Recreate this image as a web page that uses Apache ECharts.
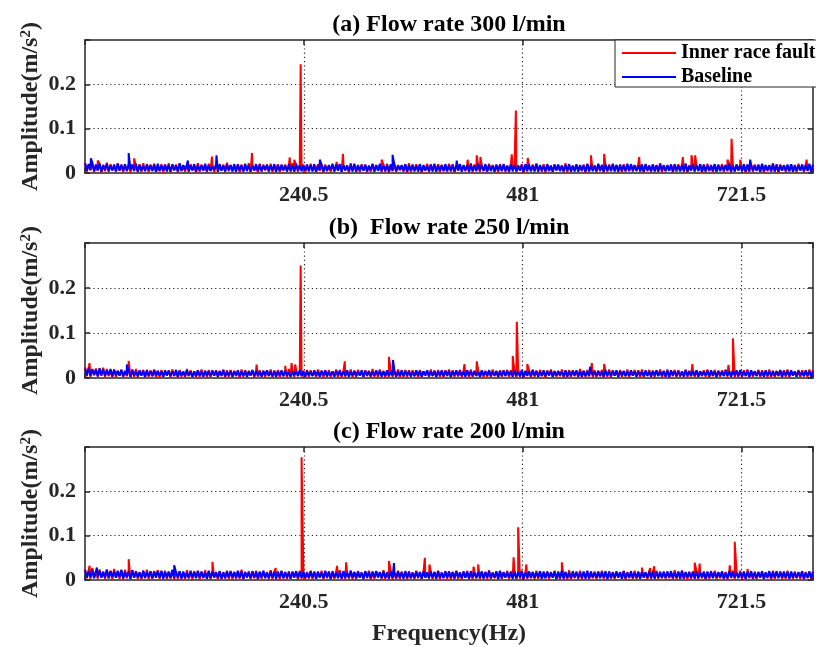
<!DOCTYPE html>
<html><head><meta charset="utf-8">
<script src="https://cdn.jsdelivr.net/npm/echarts@6/dist/echarts.min.js"></script>
<style>html,body{margin:0;padding:0;background:#fff}#c{width:816px;height:647px}</style>
</head><body><div id="c"></div>
<script>
// ---- DATA ----
const panelTitles = ['(a) Flow rate 300 l/min', '(b)  Flow rate 250 l/min', '(c) Flow rate 200 l/min'];
const seriesNames = ['Inner race fault', 'Baseline'];
const xTicks = [240.5, 481, 721.5];
const yTicks = [0, 0.1, 0.2];
const xLabel = 'Frequency(Hz)';

// spectrum bins (Hz)
const freqHz = [
0,2,4,6,8,10,12,14,16,18,20,22,24,26,28,30,32,34,36,38,
40,42,44,46,48,50,52,54,56,58,60,62,64,66,68,70,72,74,76,78,
80,82,84,86,88,90,92,94,96,98,100,102,104,106,108,110,112,114,116,118,
120,122,124,126,128,130,132,134,136,138,140,142,144,146,148,150,152,154,156,158,
160,162,164,166,168,170,172,174,176,178,180,182,184,186,188,190,192,194,196,198,
200,202,204,206,208,210,212,214,216,218,220,222,224,226,228,230,232,234,236,238,
240,242,244,246,248,250,252,254,256,258,260,262,264,266,268,270,272,274,276,278,
280,282,284,286,288,290,292,294,296,298,300,302,304,306,308,310,312,314,316,318,
320,322,324,326,328,330,332,334,336,338,340,342,344,346,348,350,352,354,356,358,
360,362,364,366,368,370,372,374,376,378,380,382,384,386,388,390,392,394,396,398,
400,402,404,406,408,410,412,414,416,418,420,422,424,426,428,430,432,434,436,438,
440,442,444,446,448,450,452,454,456,458,460,462,464,466,468,470,472,474,476,478,
480,482,484,486,488,490,492,494,496,498,500,502,504,506,508,510,512,514,516,518,
520,522,524,526,528,530,532,534,536,538,540,542,544,546,548,550,552,554,556,558,
560,562,564,566,568,570,572,574,576,578,580,582,584,586,588,590,592,594,596,598,
600,602,604,606,608,610,612,614,616,618,620,622,624,626,628,630,632,634,636,638,
640,642,644,646,648,650,652,654,656,658,660,662,664,666,668,670,672,674,676,678,
680,682,684,686,688,690,692,694,696,698,700,702,704,706,708,710,712,714,716,718,
720,722,724,726,728,730,732,734,736,738,740,742,744,746,748,750,752,754,756,758,
760,762,764,766,768,770,772,774,776,778,780,782,784,786,788,790,792,794,796,798,
800];

// noise floor amplitudes in mm/s^2 at freqHz
const faultNoiseA = [
24,3,19,6,22,2,17,5,21,1,18,4,23,2,20,6,16,3,22,5,
19,2,17,6,21,1,18,4,16,3,20,2,22,5,17,1,19,4,21,2,
16,5,20,1,18,3,22,2,17,6,19,1,21,4,16,3,18,2,20,5,
17,1,22,3,19,5,16,2,21,4,18,1,20,3,17,6,19,2,23,4,
18,2,16,5,20,1,19,3,17,4,22,2,18,5,16,1,21,3,19,6,
17,3,21,1,18,4,20,2,16,5,19,3,17,1,22,4,18,2,20,5,
19,1,17,4,21,3,16,2,20,5,18,1,19,4,17,2,21,3,16,5,
20,2,18,6,17,1,22,3,19,4,16,2,20,5,18,1,17,3,21,4,
18,5,16,2,19,3,21,1,17,4,20,2,18,6,16,3,19,1,22,2,
17,4,20,3,18,1,16,5,21,2,19,3,17,4,20,1,18,5,16,2,
21,3,19,1,17,5,20,2,18,4,16,3,22,1,19,5,17,2,18,4,
16,2,21,4,18,3,17,1,20,5,19,2,16,4,21,3,18,1,17,5,
20,1,18,3,16,4,19,2,21,5,17,3,20,1,18,4,16,2,19,6,
18,4,17,2,22,1,18,5,16,3,20,2,17,4,19,1,21,3,18,5,
17,2,20,4,18,1,16,3,19,5,21,2,18,4,17,1,20,3,16,6,
19,3,17,5,21,2,18,1,20,4,16,3,19,2,17,5,22,1,18,4,
16,5,19,2,17,3,20,4,18,1,21,2,16,5,19,3,17,4,20,1,
18,2,21,4,16,1,19,3,17,5,20,2,18,4,21,1,17,3,19,5,
20,4,17,1,18,3,21,2,19,5,16,3,20,1,17,4,18,2,22,3,
17,1,19,5,18,2,16,4,20,3,17,1,21,5,18,2,19,4,17,3,
19];
const baseNoiseA = [
22,5,20,7,23,4,19,6,21,3,18,7,20,5,17,6,19,4,21,5,
18,6,20,4,17,7,19,5,21,3,18,6,16,4,20,7,17,5,19,3,
21,4,17,6,19,5,18,3,20,6,17,4,22,5,18,7,19,4,17,6,
20,3,18,5,17,6,21,4,18,5,16,7,19,3,20,5,17,4,19,6,
18,5,20,3,19,6,17,4,21,5,18,3,17,6,20,4,19,5,16,7,
19,4,17,6,20,3,18,5,19,7,17,4,20,5,18,3,21,6,17,4,
17,6,19,4,18,5,20,3,17,6,19,4,16,5,18,7,20,4,19,5,
20,3,18,6,17,4,19,5,21,3,18,6,17,5,19,4,16,6,20,3,
18,5,21,4,17,6,18,3,20,5,19,4,17,7,18,5,20,3,17,6,
19,4,17,5,20,3,18,6,16,4,19,5,21,3,17,6,18,4,20,5,
17,6,19,3,18,5,20,4,17,6,18,3,19,5,17,4,21,6,18,5,
20,4,18,5,17,3,19,6,18,4,20,5,17,3,19,6,18,4,17,5,
18,3,20,6,19,4,17,5,21,3,18,6,16,4,20,5,17,3,19,6,
19,5,17,4,18,6,20,3,17,5,19,4,18,6,17,3,20,5,18,4,
17,4,21,5,18,3,19,6,17,4,20,5,18,3,19,6,17,5,21,4,
20,6,18,4,17,5,19,3,20,6,17,4,19,5,18,3,20,6,17,4,
18,5,19,3,20,6,17,4,18,5,21,3,17,6,19,4,18,5,20,3,
19,4,17,6,18,5,20,3,19,4,17,6,18,5,20,3,17,4,19,6,
17,5,20,3,19,4,18,6,17,5,19,3,21,4,18,6,17,5,20,4,
20,3,18,5,17,6,19,4,20,3,18,5,17,6,19,4,18,5,21,3,
19];
const faultNoiseB = [
25,4,22,2,19,6,21,3,18,5,23,2,20,4,17,1,19,3,16,5,
18,2,15,4,19,1,17,3,20,2,16,5,18,1,15,3,17,4,19,2,
16,1,18,3,15,5,17,2,19,4,16,1,18,3,15,2,20,4,17,1,
15,3,17,2,19,4,16,1,18,3,15,5,17,2,16,4,19,1,17,3,
18,2,16,4,15,1,19,3,17,2,16,5,18,1,15,3,17,4,16,2,
17,4,19,1,16,3,18,2,15,4,17,1,20,3,16,2,18,5,15,3,
16,1,18,3,17,5,15,2,19,4,16,1,17,3,18,2,15,4,19,1,
18,3,15,2,17,4,19,1,16,3,18,5,15,2,17,4,16,1,20,3,
15,2,19,4,16,1,17,3,18,2,15,4,19,1,16,3,18,2,17,5,
17,4,16,1,18,3,15,5,17,2,19,4,16,1,18,3,15,2,17,4,
19,1,17,3,15,4,18,2,16,5,17,1,19,3,15,4,18,2,16,1,
16,3,18,2,19,4,15,1,17,3,16,5,18,2,17,4,15,1,19,3,
18,2,15,4,17,1,19,3,16,2,18,4,15,1,17,5,19,2,16,3,
15,4,19,1,16,3,18,2,17,4,15,1,20,3,16,2,18,4,17,1,
17,2,16,4,18,1,15,3,19,2,17,5,16,1,18,3,15,4,19,2,
16,5,18,3,17,1,19,2,15,4,18,3,16,1,17,5,19,2,15,3,
19,1,16,4,18,2,17,3,15,5,19,1,16,4,18,2,17,3,15,4,
17,3,19,2,15,4,18,1,16,3,17,5,19,2,15,4,18,1,16,3,
18,2,17,4,19,1,16,3,15,5,18,2,17,4,16,1,19,3,15,2,
16,4,18,1,17,3,19,2,16,5,15,3,18,1,17,4,16,2,19,3,
17];
const baseNoiseB = [
21,6,23,5,20,7,18,4,22,6,19,5,17,7,20,4,18,6,16,5,
18,4,16,6,17,3,19,5,15,4,17,6,16,3,18,5,15,4,17,6,
16,5,15,3,17,6,16,4,15,5,18,3,16,6,14,4,17,5,15,3,
15,4,17,5,14,3,16,6,15,4,17,5,16,3,15,6,17,4,14,5,
16,3,15,6,17,4,14,5,16,3,15,6,17,4,16,5,14,3,16,6,
17,5,14,4,16,3,15,6,17,4,16,5,14,3,15,6,16,4,17,5,
15,3,16,6,14,4,17,5,15,3,16,6,17,4,14,5,15,3,16,6,
16,4,15,5,17,3,14,6,16,4,15,5,17,3,16,6,15,4,14,5,
17,6,16,3,15,5,17,4,14,6,16,3,15,5,17,4,16,6,15,3,
14,4,17,5,16,3,15,6,17,4,14,5,16,3,15,6,17,4,16,5,
16,3,15,6,17,4,16,5,14,3,17,6,15,4,16,5,14,3,17,6,
15,5,17,4,14,6,16,3,15,5,17,4,16,6,15,3,17,5,14,4,
17,3,16,5,15,4,17,6,16,3,14,5,17,4,15,6,16,3,15,5,
16,6,14,4,17,3,15,5,16,6,17,4,15,3,16,5,14,4,17,6,
15,4,16,5,14,3,17,6,15,4,16,5,17,3,15,6,16,4,14,5,
17,5,15,3,16,6,14,4,17,5,15,3,16,6,17,4,15,5,16,3,
16,3,17,6,15,4,16,5,14,3,17,6,15,4,16,5,17,3,15,6,
14,6,16,4,17,5,15,3,16,6,14,4,17,5,15,3,16,6,17,4,
17,4,15,5,16,3,17,6,15,4,16,5,14,3,17,6,15,4,16,5,
15,5,17,3,15,6,16,4,17,5,15,3,16,6,14,4,17,5,15,3,
16];
const faultNoiseC = [
25,4,22,2,27,5,20,3,24,6,19,2,23,4,21,1,25,5,18,3,
21,2,23,4,19,1,22,5,20,3,18,2,21,4,23,1,19,3,20,5,
22,3,19,5,21,2,18,4,23,1,20,3,19,5,17,2,22,4,18,1,
20,5,21,1,18,4,22,3,19,2,21,5,17,1,20,3,18,4,21,2,
19,2,18,4,20,3,23,1,18,5,20,2,19,4,21,1,17,3,20,5,
18,3,22,2,19,5,17,1,21,4,18,2,20,3,17,5,19,1,21,3,
20,2,18,4,21,1,19,3,17,5,21,2,18,4,20,1,17,3,19,5,
22,3,19,2,17,4,21,1,18,3,20,5,17,2,19,4,21,1,18,3,
19,5,17,3,22,2,18,4,20,1,17,3,21,2,19,5,18,1,20,4,
17,3,21,4,18,2,20,5,17,3,19,1,18,4,21,2,17,5,20,3,
20,1,18,4,21,3,17,2,19,5,21,3,17,1,20,4,18,2,19,5,
18,2,22,3,17,4,20,1,19,3,17,5,21,2,18,4,20,1,17,3,
21,4,17,2,19,5,18,1,21,3,19,2,17,4,20,3,18,5,21,1,
17,3,20,4,18,1,22,2,17,4,19,3,21,1,18,5,17,2,20,4,
19,2,18,5,21,3,17,1,20,4,18,2,19,5,17,3,21,1,18,4,
18,3,21,2,17,4,19,5,18,1,20,3,17,4,21,2,19,5,17,3,
20,4,17,3,22,2,18,4,21,2,17,1,19,3,18,5,20,2,17,4,
17,1,19,3,18,5,21,2,17,4,20,3,18,1,19,4,21,2,18,5,
21,3,18,2,20,4,17,1,19,3,18,5,20,2,17,4,19,1,21,3,
18,5,20,2,17,3,21,4,18,2,19,5,17,3,20,1,18,4,19,2,
20];
const baseNoiseC = [
22,5,20,6,24,4,19,7,21,5,18,6,23,4,20,7,19,5,21,6,
23,4,18,6,20,3,22,5,19,6,17,4,21,5,18,7,20,4,19,6,
20,5,21,3,18,6,19,4,22,5,18,6,20,3,19,5,17,4,21,6,
18,4,20,6,19,5,17,3,21,4,19,6,18,5,20,3,17,4,19,6,
20,6,18,4,21,5,19,3,18,6,17,4,20,5,18,3,19,6,21,4,
17,4,20,5,18,3,19,6,20,4,18,5,17,3,19,6,20,4,18,5,
19,5,17,4,20,6,18,3,19,5,17,4,21,6,18,3,20,5,17,4,
18,3,20,5,17,4,21,6,18,4,19,5,17,3,20,6,18,4,19,5,
20,6,18,4,19,5,17,3,20,5,18,4,19,6,17,3,20,5,18,4,
17,4,19,6,18,3,20,5,17,4,19,6,18,3,20,5,17,4,19,6,
19,5,18,3,20,6,17,4,19,5,18,3,20,6,17,4,18,5,19,3,
18,6,20,4,17,5,19,3,21,4,18,6,17,5,19,3,20,4,18,6,
20,3,17,5,19,4,18,6,17,5,20,3,19,4,18,6,17,5,19,3,
19,4,21,3,18,5,17,4,20,6,18,4,17,5,19,3,21,4,18,5,
17,5,19,4,18,6,20,3,18,4,17,5,19,6,18,3,20,4,17,5,
20,4,17,5,19,3,18,6,17,5,19,4,20,3,18,6,17,4,19,5,
18,6,20,4,17,5,19,3,21,4,18,6,17,5,19,3,20,4,18,6,
19,3,18,5,20,4,17,6,18,5,19,3,17,4,20,6,18,5,17,4,
17,5,19,3,18,6,20,4,17,4,18,5,19,3,17,6,20,4,18,5,
20,4,17,6,19,5,18,3,19,5,17,4,18,6,20,3,17,5,19,4,
18];

// discrete spectral peaks [Hz, mm/s^2]
const faultPeaksA = [[14,28],[54,33],[139.5,37],[183.5,45],[225,35],[230,30],[237,245],[276.5,25],[283.5,43],
  [326,30],[420.5,30],[430.5,40],[434.5,36],[469,42],[473.5,141],[486.5,34],[556,40],[570.5,43],[609,36],
  [657,36],[666.5,40],[670.5,40],[706,30],[710.5,77],[720,30],[793,30]];
const basePeaksA = [[6.5,33],[48,45],[113,28],[144.5,40],[258,30],[338,41],[408.5,28],[731,30]];
const faultPeaksB = [[5,33],[48,38],[188.5,30],[220,27],[227,33],[231,30],[237,250],[285.5,37],[334,47],
  [417,31],[430.5,37],[470,49],[474.5,125],[486,31],[557,33],[570.5,31],[667.5,31],[707,29],[712,88]];
const basePeaksB = [[46,30],[338.5,40],[555,25]];
const faultPeaksC = [[5,32],[48,47],[140,41],[209.5,27],[238,277],[277,32],[287,40],[334,43],[373.5,50],[378.5,35],
  [427,30],[432,35],[471,51],[476,119],[485,35],[524,40],[612,28],[621,27],[625.5,31],[670,39],[675.5,37],
  [708.5,33],[714,86],[728,25]];
const basePeaksC = [[13,28],[98,33],[339.5,38]];

const faultNoise = [faultNoiseA, faultNoiseB, faultNoiseC];
const baseNoise = [baseNoiseA, baseNoiseB, baseNoiseC];
const faultPeaks = [faultPeaksA, faultPeaksB, faultPeaksC];
const basePeaks = [basePeaksA, basePeaksB, basePeaksC];

// ---- BUILD ----
function trace(noise, peaks) {
  const pts = [];
  const n = Math.min(freqHz.length, noise.length);
  for (let i = 0; i < n; i++) pts.push([freqHz[i], noise[i] / 1000]);
  peaks.forEach(p => pts.push([p[0], p[1] / 1000]));
  pts.sort((a, b) => a[0] - b[0]);
  return pts;
}

const FONT = "'Liberation Serif','Times New Roman',Times,serif";
const AX = '#262626';
const gridBoxes = [
  {left: 85, top: 40, width: 729, height: 133},
  {left: 85, top: 243, width: 729, height: 135},
  {left: 85, top: 447, width: 729, height: 135}
];
const xMax = 800, yMax = 0.3;
const lineAx = {show: true, onZero: false, lineStyle: {color: AX, width: 1.5}};
const tickAx = {show: true, inside: true, length: 5, lineStyle: {color: AX, width: 1.5}};
const labelFont = {fontFamily: FONT, fontWeight: 'bold', fontSize: 22, color: AX};
const dotted = {show: true, showMinLine: false, showMaxLine: false, lineStyle: {type: [1.2, 3], color: AX, width: 1.2}};
const nameFont = {fontFamily: FONT, fontWeight: 'bold', fontSize: 24, color: AX};

const xAxes = [], yAxes = [], series = [];
gridBoxes.forEach((g, k) => {
  xAxes.push({
    type: 'value', gridIndex: k, position: 'bottom', min: 0, max: xMax, interval: xTicks[0],
    axisLine: lineAx, axisTick: tickAx,
    axisLabel: Object.assign({margin: 11, formatter: v => { const t = xTicks.find(t => Math.abs(t - v) < 1e-6); return t === undefined ? '' : String(t); }}, labelFont),
    splitLine: dotted,
    name: k === 2 ? xLabel : '', nameLocation: 'middle', nameGap: 42,
    nameTextStyle: nameFont
  });
  xAxes.push({
    type: 'value', gridIndex: k, position: 'top', min: 0, max: xMax, interval: xTicks[0],
    axisLine: lineAx, axisTick: tickAx, axisLabel: {show: false}, splitLine: {show: false},
    name: panelTitles[k], nameLocation: 'middle', nameGap: 3,
    nameTextStyle: {fontFamily: FONT, fontWeight: 'bold', fontSize: 24, color: '#000'}
  });
  yAxes.push({
    type: 'value', gridIndex: k, position: 'left', min: 0, max: yMax, interval: 0.1,
    axisLine: lineAx, axisTick: tickAx,
    axisLabel: Object.assign({margin: 9, formatter: v => { const t = yTicks.find(t => Math.abs(t - v) < 1e-9); return t === undefined ? '' : String(t); }}, labelFont),
    splitLine: dotted,
    name: '{t|Amplitude(m/s}{s|2}{t|)}', nameLocation: 'middle', nameGap: 42, nameMoveOverlap: false,
    nameTextStyle: {
      rich: {
        t: nameFont,
        s: {fontFamily: FONT, fontWeight: 'bold', fontSize: 15, color: AX, verticalAlign: 'top'}
      }
    }
  });
  yAxes.push({
    type: 'value', gridIndex: k, position: 'right', min: 0, max: yMax, interval: 0.1,
    axisLine: lineAx, axisTick: tickAx, axisLabel: {show: false}, splitLine: {show: false}
  });
  series.push({
    type: 'line', name: seriesNames[0], xAxisIndex: 2 * k, yAxisIndex: 2 * k,
    data: trace(faultNoise[k], faultPeaks[k]), symbol: 'none', showSymbol: false,
    lineStyle: {color: '#ff0000', width: 2}, itemStyle: {color: '#ff0000'}, silent: true, z: 2
  });
  series.push({
    type: 'line', name: seriesNames[1], xAxisIndex: 2 * k, yAxisIndex: 2 * k,
    data: trace(baseNoise[k], basePeaks[k]), symbol: 'none', showSymbol: false,
    lineStyle: {color: '#0000ff', width: 2}, itemStyle: {color: '#0000ff'}, silent: true, z: 3
  });
});

const chart = echarts.init(document.getElementById('c'), null, {renderer: 'canvas'});
chart.setOption({
  animation: false,
  backgroundColor: '#fff',
  grid: gridBoxes.map(g => Object.assign({containLabel: false}, g)),
  xAxis: xAxes, yAxis: yAxes, series: series,
  legend: {
    data: seriesNames, orient: 'vertical', left: 615, top: 40, icon: 'rect',
    itemWidth: 54, itemHeight: 2, itemGap: 4, padding: [3, 60, 0, 7],
    backgroundColor: '#fff', borderColor: AX, borderWidth: 1, z: 20,
    textStyle: {fontFamily: FONT, fontWeight: 'bold', fontSize: 20, color: '#000', lineHeight: 16}
  }
});
</script></body></html>
